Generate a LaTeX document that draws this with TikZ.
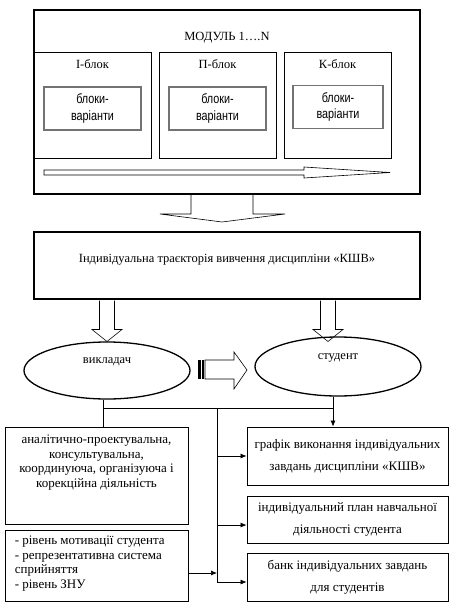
\documentclass[tikz,border=0pt]{standalone}
\usepackage{fontspec}
\setmainfont{Liberation Serif}
\newfontfamily\narrowsf[FakeStretch=0.8]{Liberation Sans}
\usetikzlibrary{arrows.meta,calc,positioning,shapes.geometric}
\tikzset{>=Latex,line width=.8pt,
  every node/.style={font=\fontsize{12.5}{14.3}\selectfont,inner sep=0pt},
  frame/.style={draw,line width=1.5pt},
  unit/.style={draw,line width=.8pt},
  variant/.style={draw=black!55,line width=1.3pt,align=center,
    font=\narrowsf\fontsize{13.5}{16.5}\selectfont},
  role/.style={draw,ellipse,line width=1.3pt},
  lower/.style={font=\fontsize{13}{14.4}\selectfont},
  result/.style={draw,line width=.8pt,align=center,minimum width=201pt,
    font=\fontsize{13}{22}\selectfont},
  fat/.style={draw,fill=white,line width=.6pt,line join=miter},
  link/.style={-{Latex[length=6pt,width=5pt]},line width=.7pt}}

\begin{document}
\begin{tikzpicture}[x=1pt,y=-1pt]
\useasboundingbox (0,0) rectangle (456,604);
% module and its blocks
\node[frame,minimum width=386pt,minimum height=184pt] (modul) at (227,102) {};
\node (title) at (227,38) {МОДУЛЬ 1….N};
\foreach \n/\t/\x/\w/\vx/\vw/\vy in {i/І/92.5/117/92.5/97/108.5,p/П/217.5/117/217.5/97/108.5,k/К/337.5/107/338/90/107}{
\node[unit,minimum width=\w pt,minimum height=106pt] (blok\n) at (\x,105) {};
\node (name\n) at (\x,64) {\t-блок};
\node[variant,minimum width=\vw pt,minimum height=43pt] (var\n) at (\vx,\vy) {блоки-\\варіанти};}
\draw[fat] (44,170)--(304,170)--(304,167)--(390,172.5)--(304,178)--(304,175)--(44,175)--cycle;
\draw[fat] (191,195)--(191,214)--(160,214)--(222,222)--(285,214)--(253,214)--(253,195);
% trajectory
\node[frame,minimum width=386pt,minimum height=67pt] (traj) at (227,265.5) {};
\node (trajtext) at (227,260) {Індивідуальна траєкторія вивчення дисципліни «КШВ»};
\foreach \x in {107,328}{
\draw[fat] (\x-7.5,300.5)--(\x-7.5,329.5)--(\x-15,329.5)--(\x,341.5)--(\x+15,329.5)--(\x+7.5,329.5)--(\x+7.5,300.5);}
\node[role,minimum width=166pt,minimum height=57pt] (vykl) at (107,370.5) {};
\node (vykltext) at (107,362) {викладач};
\node[role,minimum width=166pt,minimum height=59pt] (stud) at (338,366.5) {};
\node (studtext) at (338,358) {студент};
\fill (198,360) rectangle (201,379);
\fill (202.3,360) rectangle (203.8,379);
\draw[fat] (205,360)--(234,360)--(234,352)--(247,370)--(234,389)--(234,379)--(205,379)--cycle;
% lower boxes
\node[unit,minimum width=183pt,minimum height=97pt] (dial) at (96.5,475.5) {};
\node[lower,below=8.5pt of dial.north,align=center] (dialtext) {аналітично-проектувальна,\\консультувальна,\\координуюча, організуюча і\\корекційна діяльність};
\node[unit,minimum width=183pt,minimum height=71pt] (fact) at (96.5,565.5) {};
\node[lower,below right=6.5pt and 10pt of fact.north west,align=left] (facttext) {- рівень мотивації студента\\- репрезентативна система\\сприйняття\\- рівень ЗНУ};
\node[result,minimum height=58pt] (grafik) at (347.5,456) {графік виконання індивідуальних\\завдань дисципліни «КШВ»};
\node[result,minimum height=47pt] (plan) at (347.5,519.5) {індивідуальний план навчальної\\діяльності студента};
\node[result,minimum height=48pt] (bank) at (347.5,577) {банк індивідуальних завдань\\для студентів};
% connectors
\coordinate (jl) at (103,408);
\coordinate (jm) at (217,408);
\coordinate (jr) at (333,408);
\coordinate (pa) at ($(plan.west)+(0,5.5)$);
\coordinate (ba) at ($(bank.west)+(0,5)$);
\coordinate (fa) at ($(fact.east)+(0,7.5)$);
\draw (jl |- vykl.south) -- (jl |- dial.north);
\draw (jl) -- (jr);
\draw[link] (jr |- stud.south) -- (jr |- grafik.north);
\draw[link] (jm) |- (ba);
\draw[link] (jm |- grafik.west) -- (grafik.west);
\draw[link] (jm |- pa) -- (pa);
\draw[link] (fa) -- (jm |- fa);
\end{tikzpicture}
\end{document}
